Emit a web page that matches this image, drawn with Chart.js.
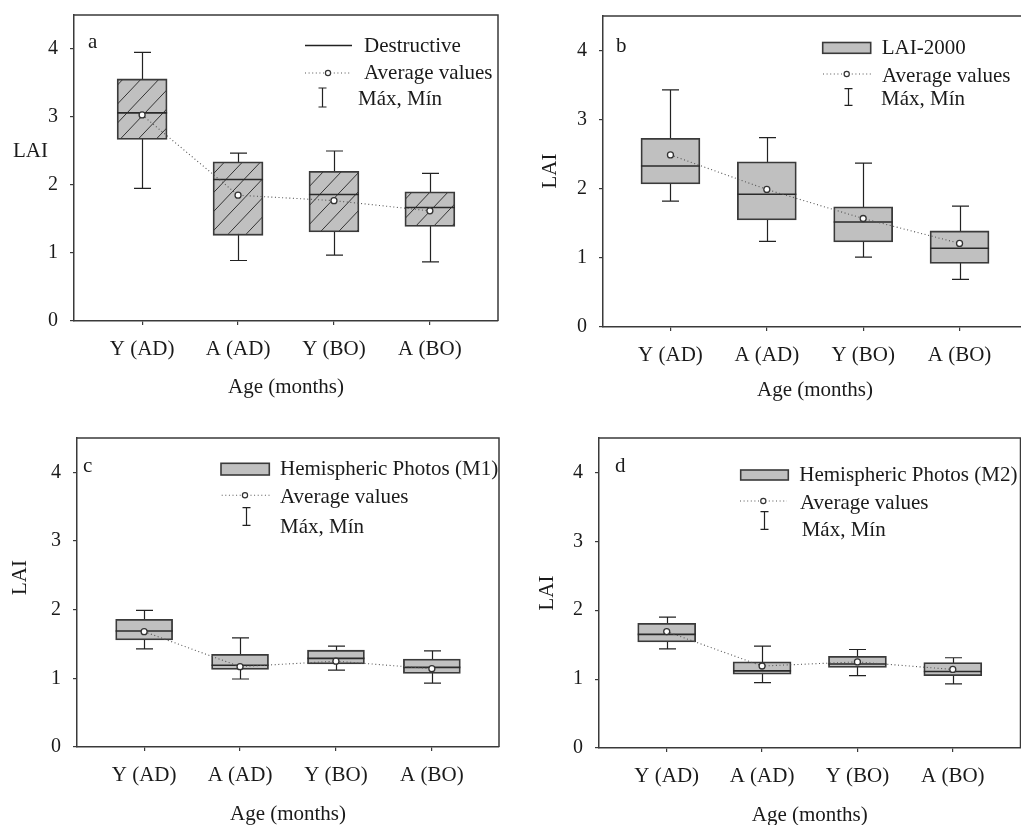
<!DOCTYPE html>
<html>
<head>
<meta charset="utf-8">
<script src="https://cdn.jsdelivr.net/npm/chart.js@4.4.1/dist/chart.umd.min.js"></script>
<style>
  html, body { margin: 0; padding: 0; background: #fff; overflow: hidden; width: 1021px; height: 825px; }
  canvas { position: absolute; }
</style>
</head>
<body>
<canvas id="panelA" width="510" height="410" style="left:0;top:0;width:510px;height:410px"></canvas>
<canvas id="panelB" width="530" height="410" style="left:510px;top:0;width:530px;height:410px"></canvas>
<canvas id="panelC" width="510" height="430" style="left:0;top:410px;width:510px;height:430px"></canvas>
<canvas id="panelD" width="530" height="430" style="left:510px;top:410px;width:530px;height:430px"></canvas>
<script>
const categories = ['Y (AD)', 'A (AD)', 'Y (BO)', 'A (BO)'];
const yTicks = [0, 1, 2, 3, 4];

// a - Destructive
const destMax    = [3.95, 2.47, 2.50, 2.17];
const destQ3     = [3.56, 2.34, 2.20, 1.90];
const destMedian = [3.06, 2.08, 1.86, 1.67];
const destMean   = [3.03, 1.85, 1.77, 1.62];
const destQ1     = [2.67, 1.26, 1.31, 1.39];
const destMin    = [1.95, 0.89, 0.97, 0.87];

// b - LAI-2000
const laiMax    = [3.43, 2.74, 2.37, 1.75];
const laiQ3     = [2.73, 2.39, 1.74, 1.39];
const laiMedian = [2.33, 1.92, 1.52, 1.14];
const laiMean   = [2.49, 1.99, 1.57, 1.21];
const laiQ1     = [2.07, 1.55, 1.23, 0.92];
const laiMin    = [1.82, 1.24, 1.01, 0.69];

// c - Hemispheric Photos (M1)
const m1Max    = [1.99, 1.59, 1.47, 1.40];
const m1Q3     = [1.86, 1.35, 1.41, 1.28];
const m1Median = [1.69, 1.19, 1.29, 1.16];
const m1Mean   = [1.68, 1.17, 1.25, 1.14];
const m1Q1     = [1.56, 1.13, 1.21, 1.07];
const m1Min    = [1.43, 0.99, 1.12, 0.93];

// d - Hemispheric Photos (M2)
const m2Max    = [1.90, 1.48, 1.43, 1.31];
const m2Q3     = [1.81, 1.25, 1.33, 1.24];
const m2Median = [1.65, 1.12, 1.22, 1.11];
const m2Mean   = [1.69, 1.19, 1.25, 1.14];
const m2Q1     = [1.54, 1.07, 1.17, 1.05];
const m2Min    = [1.44, 0.95, 1.05, 0.93];

const FONT = "'Liberation Serif', 'Times New Roman', serif";
const INK = '#1a1a1a';
const BOX_FILL = '#c0c0c0';
const EDGE = '#3a3a3a';

function hatchPattern() {
  const w = 18, h = 19;
  const c = document.createElement('canvas');
  c.width = w; c.height = h;
  const g = c.getContext('2d');
  g.fillStyle = BOX_FILL;
  g.fillRect(0, 0, w, h);
  g.strokeStyle = '#333';
  g.lineWidth = 1;
  g.beginPath();
  for (const ox of [-w, 0, w]) {
    g.moveTo(ox - 2, h + 2 * h / w);
    g.lineTo(ox + w + 2, -2 * h / w);
  }
  g.stroke();
  return document.createElement('canvas').getContext('2d').createPattern(c, 'repeat');
}

// whiskers, medians, frame, labels and legend for one panel
function boxPlugin(p) {
  return {
    id: 'box_' + p.id,
    beforeDatasetsDraw(chart) {
      const { ctx, scales: { x, y } } = chart;
      ctx.save();
      ctx.strokeStyle = '#222';
      ctx.lineWidth = 1.2;
      p.max.forEach((hi, i) => {
        const px = Math.round(x.getPixelForValue(i + 1)) + 0.5;
        const top = y.getPixelForValue(hi), bot = y.getPixelForValue(p.min[i]);
        ctx.beginPath();
        ctx.moveTo(px, top); ctx.lineTo(px, bot);
        ctx.moveTo(px - 8.5, top); ctx.lineTo(px + 8.5, top);
        ctx.moveTo(px - 8.5, bot); ctx.lineTo(px + 8.5, bot);
        ctx.stroke();
      });
      ctx.restore();
    },
    afterDatasetDraw(chart, args) {
      if (args.index !== 0) return;
      const { ctx, scales: { y } } = chart;
      ctx.save();
      ctx.strokeStyle = '#2a2a2a';
      ctx.lineWidth = 1.6;
      chart.getDatasetMeta(0).data.forEach((bar, i) => {
        const { x: cx, width } = bar.getProps(['x', 'width'], true);
        const py = y.getPixelForValue(p.median[i]);
        ctx.beginPath();
        ctx.moveTo(cx - width / 2, py); ctx.lineTo(cx + width / 2, py);
        ctx.stroke();
      });
      ctx.restore();
    },
    afterDraw(chart) {
      const { ctx, chartArea: a } = chart;
      ctx.save();
      // frame top/right
      ctx.strokeStyle = EDGE;
      ctx.lineWidth = 1.5;
      ctx.beginPath();
      ctx.moveTo(a.left, a.top); ctx.lineTo(a.right, a.top); ctx.lineTo(a.right, a.bottom);
      ctx.stroke();

      ctx.fillStyle = INK;
      ctx.font = '21px ' + FONT;
      // panel letter
      ctx.textAlign = 'left';
      ctx.textBaseline = 'alphabetic';
      ctx.fillText(p.letter.text, p.letter.x, p.letter.y);
      // y title
      const t = p.yTitle;
      if (t.rotate) {
        ctx.save();
        ctx.translate(t.x, t.y);
        ctx.rotate(-Math.PI / 2);
        ctx.textAlign = 'center';
        ctx.textBaseline = 'middle';
        ctx.fillText('LAI', 0, 0);
        ctx.restore();
      } else {
        ctx.fillText('LAI', t.x, t.y);
      }
      // legend
      for (const r of p.legend) {
        ctx.strokeStyle = '#222';
        ctx.setLineDash([]);
        if (r.type === 'line') {
          ctx.lineWidth = 1.3;
          ctx.beginPath(); ctx.moveTo(r.x1, r.y); ctx.lineTo(r.x2, r.y); ctx.stroke();
        } else if (r.type === 'box') {
          ctx.fillStyle = BOX_FILL;
          ctx.fillRect(r.x1, r.y1, r.x2 - r.x1, r.y2 - r.y1);
          ctx.lineWidth = 1.6;
          ctx.strokeStyle = EDGE;
          ctx.strokeRect(r.x1, r.y1, r.x2 - r.x1, r.y2 - r.y1);
        } else if (r.type === 'mean') {
          ctx.lineWidth = 1.1;
          ctx.strokeStyle = '#555';
          ctx.setLineDash([1, 2.6]);
          ctx.beginPath(); ctx.moveTo(r.x1, r.y); ctx.lineTo(r.x2, r.y); ctx.stroke();
          ctx.setLineDash([]);
          ctx.fillStyle = '#fff';
          ctx.strokeStyle = '#333';
          ctx.lineWidth = 1.2;
          ctx.beginPath(); ctx.arc(r.cx, r.y, 2.6, 0, Math.PI * 2); ctx.fill(); ctx.stroke();
        } else if (r.type === 'whisker') {
          const cx = Math.round(r.cx) + 0.5;
          ctx.lineWidth = 1.2;
          ctx.beginPath();
          ctx.moveTo(cx, r.y1); ctx.lineTo(cx, r.y2);
          ctx.moveTo(cx - 4, r.y1); ctx.lineTo(cx + 4, r.y1);
          ctx.moveTo(cx - 4, r.y2); ctx.lineTo(cx + 4, r.y2);
          ctx.stroke();
        }
        ctx.fillStyle = INK;
        ctx.textAlign = 'left';
        ctx.textBaseline = 'alphabetic';
        ctx.fillText(r.text, r.tx, r.ty);
      }
      ctx.restore();
    }
  };
}

function makePanel(p) {
  const axisGrid = { drawOnChartArea: false, drawTicks: true, tickLength: 4, color: EDGE, lineWidth: 1.2, offset: false };
  const axisBorder = { display: true, color: EDGE, width: 1.5 };
  return new Chart(document.getElementById(p.id), {
    type: 'bar',
    data: {
      datasets: [
        {
          type: 'bar',
          data: p.q1.map((v, i) => ({ x: i + 1, y: [v, p.q3[i]] })),
          backgroundColor: p.hatch ? hatchPattern() : BOX_FILL,
          borderColor: EDGE,
          borderWidth: 1.8,
          borderSkipped: false,
          barThickness: p.boxWidth,
          order: 2
        },
        {
          type: 'line',
          data: p.mean.map((v, i) => ({ x: i + 1, y: v })),
          borderColor: '#555',
          borderWidth: 1.1,
          borderDash: [1, 2.6],
          tension: 0,
          pointRadius: 3,
          pointBackgroundColor: '#fff',
          pointBorderColor: '#333',
          pointBorderWidth: 1.3,
          order: 1
        }
      ]
    },
    options: {
      responsive: false,
      animation: false,
      layout: { padding: { top: p.padTop, right: p.padRight, left: 0, bottom: 0 } },
      plugins: { legend: { display: false }, tooltip: { enabled: false } },
      scales: {
        x: {
          type: 'linear',
          min: p.xMin, max: p.xMax,
          offset: false,
          afterBuildTicks: s => { s.ticks = categories.map((c, i) => ({ value: i + 1 })); },
          afterFit: s => { s.height = p.xAxisHeight; s.paddingLeft = 0; s.paddingRight = 0; },
          ticks: { callback: v => categories[v - 1], font: { family: FONT, size: 21 }, color: INK, padding: 12, maxRotation: 0, autoSkip: false },
          grid: axisGrid,
          border: axisBorder,
          title: { display: true, text: 'Age (months)', font: { family: FONT, size: 21 }, color: INK, padding: { top: 0, bottom: p.xTitlePad } }
        },
        y: {
          min: 0, max: 4.5,
          afterBuildTicks: s => { s.ticks = yTicks.map(v => ({ value: v })); },
          afterFit: s => { s.width = p.yAxisWidth; s.paddingTop = 0; s.paddingBottom = 0; },
          ticks: { font: { family: FONT, size: 20 }, color: INK, padding: 12 },
          grid: axisGrid,
          border: axisBorder
        }
      }
    },
    plugins: [boxPlugin(p)]
  });
}

makePanel({
  id: 'panelA', hatch: true, boxWidth: 50,
  max: destMax, q3: destQ3, median: destMedian, mean: destMean, q1: destQ1, min: destMin,
  xMin: 0.29, xMax: 4.71, yAxisWidth: 74, padTop: 15, padRight: 12, xAxisHeight: 89, xTitlePad: 10,
  letter: { text: 'a', x: 88, y: 48 },
  yTitle: { rotate: false, x: 13, y: 157 },
  legend: [
    { type: 'line', x1: 305, x2: 352, y: 45.5, tx: 364, ty: 52, text: 'Destructive' },
    { type: 'mean', x1: 305, x2: 350, cx: 328, y: 73, tx: 364, ty: 79, text: 'Average values' },
    { type: 'whisker', cx: 322, y1: 88, y2: 107, tx: 358, ty: 105, text: 'Máx, Mín' }
  ]
});

makePanel({
  id: 'panelB', hatch: false, boxWidth: 59,
  max: laiMax, q3: laiQ3, median: laiMedian, mean: laiMean, q1: laiQ1, min: laiMin,
  xMin: 0.3, xMax: 4.7, yAxisWidth: 93, padTop: 16, padRight: 13, xAxisHeight: 83, xTitlePad: 7,
  letter: { text: 'b', x: 106, y: 52 },
  yTitle: { rotate: true, x: 40, y: 171 },
  legend: [
    { type: 'box', x1: 312.7, x2: 360.7, y1: 42.5, y2: 53.3, tx: 371.7, ty: 54, text: 'LAI-2000' },
    { type: 'mean', x1: 313, x2: 362, cx: 336.7, y: 74, tx: 372, ty: 82, text: 'Average values' },
    { type: 'whisker', cx: 338.3, y1: 88.7, y2: 105.3, tx: 371, ty: 105, text: 'Máx, Mín' }
  ]
});

makePanel({
  id: 'panelC', hatch: false, boxWidth: 57,
  max: m1Max, q3: m1Q3, median: m1Median, mean: m1Mean, q1: m1Q1, min: m1Min,
  xMin: 0.3, xMax: 4.7, yAxisWidth: 77, padTop: 28, padRight: 11, xAxisHeight: 93, xTitlePad: 13,
  letter: { text: 'c', x: 83, y: 62 },
  yTitle: { rotate: true, x: 20, y: 167.5 },
  legend: [
    { type: 'box', x1: 221, x2: 269.3, y1: 53.3, y2: 65, tx: 280, ty: 65, text: 'Hemispheric Photos (M1)' },
    { type: 'mean', x1: 221.7, x2: 270, cx: 245, y: 85.3, tx: 280, ty: 93, text: 'Average values' },
    { type: 'whisker', cx: 245.7, y1: 97.7, y2: 115.3, tx: 280, ty: 123, text: 'Máx, Mín' }
  ]
});

makePanel({
  id: 'panelD', hatch: false, boxWidth: 58,
  max: m2Max, q3: m2Q3, median: m2Median, mean: m2Mean, q1: m2Q1, min: m2Min,
  xMin: 0.29, xMax: 4.71, yAxisWidth: 89, padTop: 28, padRight: 19.5, xAxisHeight: 92, xTitlePad: 12,
  letter: { text: 'd', x: 105, y: 62 },
  yTitle: { rotate: true, x: 37, y: 183 },
  legend: [
    { type: 'box', x1: 230.7, x2: 278.3, y1: 60, y2: 70, tx: 289.3, ty: 70.5, text: 'Hemispheric Photos (M2)' },
    { type: 'mean', x1: 230, x2: 277, cx: 253.3, y: 91, tx: 290, ty: 99, text: 'Average values' },
    { type: 'whisker', cx: 254, y1: 101.7, y2: 119.3, tx: 291.7, ty: 126, text: 'Máx, Mín' }
  ]
});
</script>
</body>
</html>
